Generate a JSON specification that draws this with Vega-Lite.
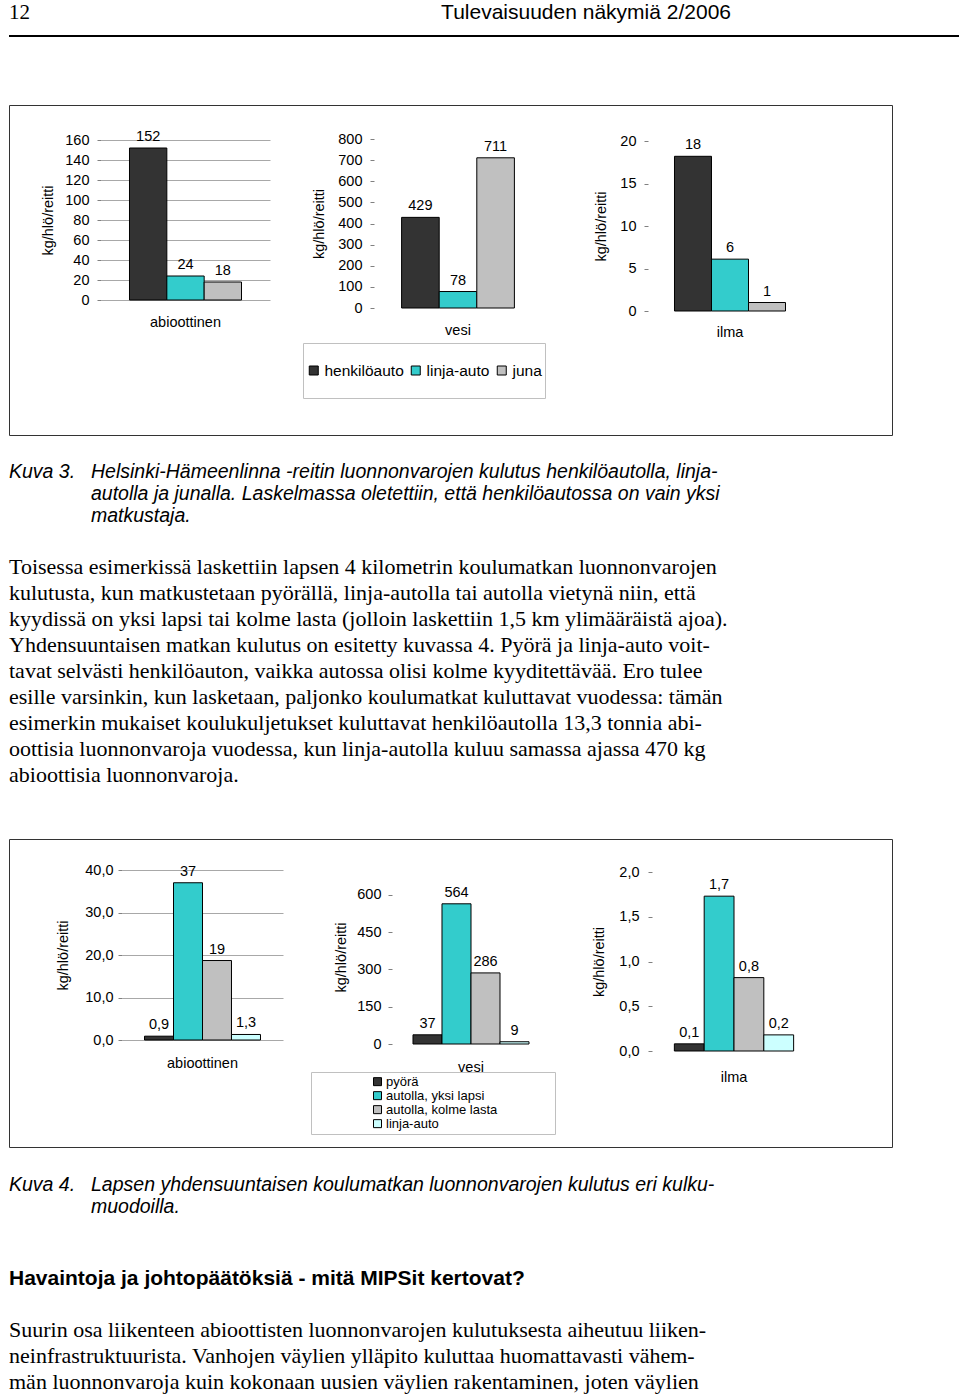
{
  "$schema": "https://vega.github.io/schema/vega-lite/v6.json",
  "background": "#ffffff",
  "padding": {"left": 8, "top": 0, "right": 2, "bottom": 1},
  "spacing": 0,
  "bounds": "flush",
  "config": {
    "view": {"stroke": null},
    "font": "Liberation Sans",
    "axis": {"labelFont": "Liberation Sans", "titleFont": "Liberation Sans", "labelColor": "#000", "titleColor": "#000", "titleFontWeight": "normal", "labelFontSize": 14.5, "titleFontSize": 14.5, "tickColor": "#808080", "gridColor": "#a8a8a8", "domain": false},
    "legend": {"labelFont": "Liberation Sans", "labelColor": "#000"}
  },
  "resolve": {"scale": {"color": "independent"}, "legend": {"color": "independent"}},
  "vconcat": [
    {
      "width": 722, "height": 25,
      "layer": [
        {"data": {"values": [{"t": "12"}]}, "mark": {"type": "text", "align": "left", "baseline": "middle", "font": "Liberation Serif", "fontSize": 21, "color": "#000"}, "encoding": {"x": {"datum": 0, "type": "quantitative", "scale": {"domain": [0, 1]}, "axis": null}, "text": {"field": "t"}}},
        {"data": {"values": [{"t": "Tulevaisuuden näkymiä 2/2006"}]}, "mark": {"type": "text", "align": "right", "baseline": "middle", "font": "Liberation Sans", "fontSize": 21, "color": "#000"}, "encoding": {"x": {"datum": 1, "type": "quantitative", "scale": {"domain": [0, 1]}, "axis": null}, "text": {"field": "t"}}}
      ]
    },
    {"width": 20, "height": 10, "data": {"values": [{}]}, "mark": {"type": "point", "opacity": 0, "size": 1}},
    {"width": 950, "height": 2, "view": {"fill": "#000", "stroke": null}, "data": {"values": [{}]}, "mark": {"type": "point", "opacity": 0, "size": 1}},
    {"width": 20, "height": 68, "data": {"values": [{}]}, "mark": {"type": "point", "opacity": 0, "size": 1}},
    {
      "width": 883, "height": 330,
      "view": {"stroke": "#333333", "strokeWidth": 1},
      "resolve": {"scale": {"x": "independent", "y": "independent", "xOffset": "independent"}, "axis": {"x": "independent", "y": "independent"}},
      "layer": [
        {
          "data": {"values": [
            {"cat": "abioottinen", "mode": "henkilöauto", "value": 152, "label": "152"},
            {"cat": "abioottinen", "mode": "linja-auto", "value": 24, "label": "24"},
            {"cat": "abioottinen", "mode": "juna", "value": 18, "label": "18"}
          ]},
          "encoding": {
            "x": {"field": "cat", "type": "nominal", "scale": {"range": [92, 261], "paddingInner": 0, "paddingOuter": 0}, "axis": {"orient": "bottom", "offset": -135, "ticks": false, "labelPadding": 15, "labelAngle": 0, "title": null}},
            "y": {"field": "value", "type": "quantitative", "scale": {"domain": [0, 160], "range": [195, 35], "nice": false}, "axis": {"orient": "left", "offset": -92, "values": [0, 20, 40, 60, 80, 100, 120, 140, 160], "tickSize": 4, "labelPadding": 8, "title": "kg/hlö/reitti", "titleX": -53, "titleBaseline": "middle", "titleAlign": "center", "titleAngle": 270}}
          },
          "layer": [
            {"data": {"values": [{"cat": "abioottinen"}]}, "mark": {"type": "rect", "fill": "transparent", "stroke": "#808080", "strokeWidth": 1}, "encoding": {"y": {"datum": 160}, "y2": {"datum": 0}}},
            {"mark": {"type": "bar", "stroke": "#000", "strokeWidth": 1, "opacity": 1},
             "encoding": {
               "xOffset": {"field": "mode", "type": "nominal", "sort": ["henkilöauto", "linja-auto", "juna"], "scale": {"paddingInner": 0, "paddingOuter": 0.763}},
               "color": {"field": "mode", "type": "nominal", "sort": ["henkilöauto", "linja-auto", "juna"], "scale": {"domain": ["henkilöauto", "linja-auto", "juna"], "range": ["#333333", "#33cccc", "#c0c0c0"]},
                 "legend": {"orient": "none", "legendX": 294, "legendY": 238, "direction": "horizontal", "title": null, "padding": 3, "clipHeight": 49, "strokeColor": "#c0c0c0", "symbolType": "square", "symbolSize": 81, "symbolStrokeColor": "#000", "symbolStrokeWidth": 1, "symbolOpacity": 1, "labelFontSize": 15.5, "labelOffset": 3, "columnPadding": 4}}
             }},
            {"mark": {"type": "text", "baseline": "bottom", "dy": -4, "fontSize": 14.5, "font": "Liberation Sans", "color": "#000"},
             "encoding": {"xOffset": {"field": "mode", "type": "nominal", "sort": ["henkilöauto", "linja-auto", "juna"], "scale": {"paddingInner": 0, "paddingOuter": 0.763}}, "text": {"field": "label"}}}
          ]
        },
        {
          "data": {"values": [
            {"cat": "vesi", "mode": "henkilöauto", "value": 429, "label": "429"},
            {"cat": "vesi", "mode": "linja-auto", "value": 78, "label": "78"},
            {"cat": "vesi", "mode": "juna", "value": 711, "label": "711"}
          ]},
          "encoding": {
            "x": {"field": "cat", "type": "nominal", "scale": {"range": [365, 533], "paddingInner": 0, "paddingOuter": 0}, "axis": {"orient": "bottom", "offset": -127, "ticks": false, "labelPadding": 15, "labelAngle": 0, "title": null}},
            "y": {"field": "value", "type": "quantitative", "scale": {"domain": [0, 800], "range": [203, 34], "nice": false}, "axis": {"orient": "left", "offset": -365, "values": [0, 100, 200, 300, 400, 500, 600, 700, 800], "tickSize": 4, "labelPadding": 8, "title": "kg/hlö/reitti", "titleX": -55, "titleBaseline": "middle", "titleAlign": "center", "titleAngle": 270}}
          },
          "layer": [
            {"data": {"values": [{"cat": "vesi"}]}, "mark": {"type": "rect", "fill": "transparent", "stroke": "#808080", "strokeWidth": 1}, "encoding": {"y": {"datum": 800}, "y2": {"datum": 0}}},
            {"mark": {"type": "bar", "stroke": "#000", "strokeWidth": 1, "opacity": 1},
             "encoding": {
               "xOffset": {"field": "mode", "type": "nominal", "sort": ["henkilöauto", "linja-auto", "juna"], "scale": {"paddingInner": 0, "paddingOuter": 0.734}},
               "color": {"field": "mode", "type": "nominal", "sort": ["henkilöauto", "linja-auto", "juna"], "scale": {"domain": ["henkilöauto", "linja-auto", "juna"], "range": ["#333333", "#33cccc", "#c0c0c0"]},
                 "legend": {"orient": "none", "legendX": 294, "legendY": 238, "direction": "horizontal", "title": null, "padding": 3, "clipHeight": 49, "strokeColor": "#c0c0c0", "symbolType": "square", "symbolSize": 81, "symbolStrokeColor": "#000", "symbolStrokeWidth": 1, "symbolOpacity": 1, "labelFontSize": 15.5, "labelOffset": 3, "columnPadding": 4}}
             }},
            {"mark": {"type": "text", "baseline": "bottom", "dy": -4, "fontSize": 14.5, "font": "Liberation Sans", "color": "#000"},
             "encoding": {"xOffset": {"field": "mode", "type": "nominal", "sort": ["henkilöauto", "linja-auto", "juna"], "scale": {"paddingInner": 0, "paddingOuter": 0.734}}, "text": {"field": "label"}}}
          ]
        },
        {
          "data": {"values": [
            {"cat": "ilma", "mode": "henkilöauto", "value": 18.2, "label": "18"},
            {"cat": "ilma", "mode": "linja-auto", "value": 6.1, "label": "6"},
            {"cat": "ilma", "mode": "juna", "value": 1, "label": "1"}
          ]},
          "encoding": {
            "x": {"field": "cat", "type": "nominal", "scale": {"range": [639, 803], "paddingInner": 0, "paddingOuter": 0}, "axis": {"orient": "bottom", "offset": -124, "ticks": false, "labelPadding": 14, "labelAngle": 0, "title": null}},
            "y": {"field": "value", "type": "quantitative", "scale": {"domain": [0, 20], "range": [206, 36], "nice": false}, "axis": {"orient": "left", "offset": -639, "values": [0, 5, 10, 15, 20], "tickSize": 4, "labelPadding": 8, "title": "kg/hlö/reitti", "titleX": -47, "titleBaseline": "middle", "titleAlign": "center", "titleAngle": 270}}
          },
          "layer": [
            {"data": {"values": [{"cat": "ilma"}]}, "mark": {"type": "rect", "fill": "transparent", "stroke": "#808080", "strokeWidth": 1}, "encoding": {"y": {"datum": 20}, "y2": {"datum": 0}}},
            {"mark": {"type": "bar", "stroke": "#000", "strokeWidth": 1, "opacity": 1},
             "encoding": {
               "xOffset": {"field": "mode", "type": "nominal", "sort": ["henkilöauto", "linja-auto", "juna"], "scale": {"paddingInner": 0, "paddingOuter": 0.716}},
               "color": {"field": "mode", "type": "nominal", "sort": ["henkilöauto", "linja-auto", "juna"], "scale": {"domain": ["henkilöauto", "linja-auto", "juna"], "range": ["#333333", "#33cccc", "#c0c0c0"]},
                 "legend": {"orient": "none", "legendX": 294, "legendY": 238, "direction": "horizontal", "title": null, "padding": 3, "clipHeight": 49, "strokeColor": "#c0c0c0", "symbolType": "square", "symbolSize": 81, "symbolStrokeColor": "#000", "symbolStrokeWidth": 1, "symbolOpacity": 1, "labelFontSize": 15.5, "labelOffset": 3, "columnPadding": 4}}
             }},
            {"mark": {"type": "text", "baseline": "bottom", "dy": -4, "fontSize": 14.5, "font": "Liberation Sans", "color": "#000"},
             "encoding": {"xOffset": {"field": "mode", "type": "nominal", "sort": ["henkilöauto", "linja-auto", "juna"], "scale": {"paddingInner": 0, "paddingOuter": 0.716}}, "text": {"field": "label"}}}
          ]
        }
      ]
    },
    {"width": 20, "height": 26, "data": {"values": [{}]}, "mark": {"type": "point", "opacity": 0, "size": 1}},
    {
      "width": 720, "height": 66,
      "data": {"values": [
        {"line": 1, "part": "label", "text": "Kuva 3."},
        {"line": 1, "part": "body", "text": "Helsinki-Hämeenlinna -reitin luonnonvarojen kulutus henkilöautolla, linja-"},
        {"line": 2, "part": "body", "text": "autolla ja junalla. Laskelmassa oletettiin, että henkilöautossa on vain yksi"},
        {"line": 3, "part": "body", "text": "matkustaja."}
      ]},
      "mark": {"type": "text", "align": "left", "baseline": "middle", "font": "Liberation Sans", "fontStyle": "italic", "fontSize": 19.5, "color": "#000"},
      "encoding": {
        "x": {"field": "part", "type": "nominal", "scale": {"type": "point", "domain": ["label", "body"], "range": [0, 82], "padding": 0}, "axis": null},
        "y": {"field": "line", "type": "ordinal", "scale": {"type": "point", "padding": 0.5}, "axis": null},
        "text": {"field": "text"}
      }
    },
    {"width": 20, "height": 27, "data": {"values": [{}]}, "mark": {"type": "point", "opacity": 0, "size": 1}},
    {
      "width": 720, "height": 234,
      "data": {"values": [
        {"line": 1, "text": "Toisessa esimerkissä laskettiin lapsen 4 kilometrin koulumatkan luonnonvarojen"},
        {"line": 2, "text": "kulutusta, kun matkustetaan pyörällä, linja-autolla tai autolla vietynä niin, että"},
        {"line": 3, "text": "kyydissä on yksi lapsi tai kolme lasta (jolloin laskettiin 1,5 km ylimääräistä ajoa)."},
        {"line": 4, "text": "Yhdensuuntaisen matkan kulutus on esitetty kuvassa 4. Pyörä ja linja-auto voit-"},
        {"line": 5, "text": "tavat selvästi henkilöauton, vaikka autossa olisi kolme kyyditettävää. Ero tulee"},
        {"line": 6, "text": "esille varsinkin, kun lasketaan, paljonko koulumatkat kuluttavat vuodessa: tämän"},
        {"line": 7, "text": "esimerkin mukaiset koulukuljetukset kuluttavat henkilöautolla 13,3 tonnia abi-"},
        {"line": 8, "text": "oottisia luonnonvaroja vuodessa, kun linja-autolla kuluu samassa ajassa 470 kg"},
        {"line": 9, "text": "abioottisia luonnonvaroja."}
      ]},
      "mark": {"type": "text", "align": "left", "baseline": "middle", "font": "Liberation Serif", "fontSize": 22, "color": "#000"},
      "encoding": {
        "x": {"datum": 0, "type": "quantitative", "scale": {"domain": [0, 1]}, "axis": null},
        "y": {"field": "line", "type": "ordinal", "scale": {"type": "point", "padding": 0.5}, "axis": null},
        "text": {"field": "text"}
      }
    },
    {"width": 20, "height": 51, "data": {"values": [{}]}, "mark": {"type": "point", "opacity": 0, "size": 1}},
    {
      "width": 883, "height": 308,
      "view": {"stroke": "#333333", "strokeWidth": 1},
      "resolve": {"scale": {"x": "independent", "y": "independent", "xOffset": "independent"}, "axis": {"x": "independent", "y": "independent"}},
      "layer": [
        {
          "data": {"values": [
            {"cat": "abioottinen", "mode": "pyörä", "value": 0.9, "label": "0,9"},
            {"cat": "abioottinen", "mode": "autolla, yksi lapsi", "value": 37, "label": "37"},
            {"cat": "abioottinen", "mode": "autolla, kolme lasta", "value": 18.7, "label": "19"},
            {"cat": "abioottinen", "mode": "linja-auto", "value": 1.3, "label": "1,3"}
          ]},
          "encoding": {
            "x": {"field": "cat", "type": "nominal", "scale": {"range": [113, 274], "paddingInner": 0, "paddingOuter": 0}, "axis": {"orient": "bottom", "offset": -107, "ticks": false, "labelPadding": 16, "labelAngle": 0, "title": null}},
            "y": {"field": "value", "type": "quantitative", "scale": {"domain": [0, 40], "range": [201, 31], "nice": false}, "axis": {"orient": "left", "offset": -113, "values": [0, 10, 20, 30, 40], "labelExpr": "replace(format(datum.value, '.1f'), '.', ',')", "tickSize": 4, "labelPadding": 5, "title": "kg/hlö/reitti", "titleX": -59, "titleBaseline": "middle", "titleAlign": "center", "titleAngle": 270}}
          },
          "layer": [
            {"data": {"values": [{"cat": "abioottinen"}]}, "mark": {"type": "rect", "fill": "transparent", "stroke": "#808080", "strokeWidth": 1}, "encoding": {"y": {"datum": 40}, "y2": {"datum": 0}}},
            {"mark": {"type": "bar", "stroke": "#000", "strokeWidth": 1, "opacity": 1},
             "encoding": {
               "xOffset": {"field": "mode", "type": "nominal", "sort": ["pyörä", "autolla, yksi lapsi", "autolla, kolme lasta", "linja-auto"], "scale": {"paddingInner": 0, "paddingOuter": 0.776}},
               "color": {"field": "mode", "type": "nominal", "sort": ["pyörä", "autolla, yksi lapsi", "autolla, kolme lasta", "linja-auto"], "scale": {"domain": ["pyörä", "autolla, yksi lapsi", "autolla, kolme lasta", "linja-auto"], "range": ["#333333", "#33cccc", "#c0c0c0", "#ccffff"]},
                 "legend": {"orient": "none", "legendX": 302, "legendY": 233, "direction": "vertical", "title": " ", "titleOrient": "right", "titlePadding": 55, "titleFontSize": 12, "padding": 3, "clipHeight": 13.3, "rowPadding": 0, "symbolOffset": 57, "labelOffset": 2, "strokeColor": "#c0c0c0", "symbolType": "square", "symbolSize": 64, "symbolStrokeColor": "#000", "symbolStrokeWidth": 1, "symbolOpacity": 1, "labelFontSize": 13}}
             }},
            {"mark": {"type": "text", "baseline": "bottom", "dy": -4, "fontSize": 14.5, "font": "Liberation Sans", "color": "#000"},
             "encoding": {"xOffset": {"field": "mode", "type": "nominal", "sort": ["pyörä", "autolla, yksi lapsi", "autolla, kolme lasta", "linja-auto"], "scale": {"paddingInner": 0, "paddingOuter": 0.776}}, "text": {"field": "label"}}}
          ]
        },
        {
          "data": {"values": [
            {"cat": "vesi", "mode": "pyörä", "value": 37, "label": "37"},
            {"cat": "vesi", "mode": "autolla, yksi lapsi", "value": 564, "label": "564"},
            {"cat": "vesi", "mode": "autolla, kolme lasta", "value": 286, "label": "286"},
            {"cat": "vesi", "mode": "linja-auto", "value": 9, "label": "9"}
          ]},
          "encoding": {
            "x": {"field": "cat", "type": "nominal", "scale": {"range": [383, 541], "paddingInner": 0, "paddingOuter": 0}, "axis": {"orient": "bottom", "offset": -103, "ticks": false, "labelPadding": 16, "labelAngle": 0, "title": null}},
            "y": {"field": "value", "type": "quantitative", "scale": {"domain": [0, 700], "range": [205, 31], "nice": false}, "axis": {"orient": "left", "offset": -383, "values": [0, 150, 300, 450, 600], "tickSize": 4, "labelPadding": 7, "title": "kg/hlö/reitti", "titleX": -51, "titleBaseline": "middle", "titleAlign": "center", "titleAngle": 270}}
          },
          "layer": [
            {"data": {"values": [{"cat": "vesi"}]}, "mark": {"type": "rect", "fill": "transparent", "stroke": "#808080", "strokeWidth": 1}, "encoding": {"y": {"datum": 700}, "y2": {"datum": 0}}},
            {"mark": {"type": "bar", "stroke": "#000", "strokeWidth": 1, "opacity": 1},
             "encoding": {
               "xOffset": {"field": "mode", "type": "nominal", "sort": ["pyörä", "autolla, yksi lapsi", "autolla, kolme lasta", "linja-auto"], "scale": {"paddingInner": 0, "paddingOuter": 0.724}},
               "color": {"field": "mode", "type": "nominal", "sort": ["pyörä", "autolla, yksi lapsi", "autolla, kolme lasta", "linja-auto"], "scale": {"domain": ["pyörä", "autolla, yksi lapsi", "autolla, kolme lasta", "linja-auto"], "range": ["#333333", "#33cccc", "#c0c0c0", "#ccffff"]},
                 "legend": {"orient": "none", "legendX": 302, "legendY": 233, "direction": "vertical", "title": " ", "titleOrient": "right", "titlePadding": 55, "titleFontSize": 12, "padding": 3, "clipHeight": 13.3, "rowPadding": 0, "symbolOffset": 57, "labelOffset": 2, "strokeColor": "#c0c0c0", "symbolType": "square", "symbolSize": 64, "symbolStrokeColor": "#000", "symbolStrokeWidth": 1, "symbolOpacity": 1, "labelFontSize": 13}}
             }},
            {"mark": {"type": "text", "baseline": "bottom", "dy": -4, "fontSize": 14.5, "font": "Liberation Sans", "color": "#000"},
             "encoding": {"xOffset": {"field": "mode", "type": "nominal", "sort": ["pyörä", "autolla, yksi lapsi", "autolla, kolme lasta", "linja-auto"], "scale": {"paddingInner": 0, "paddingOuter": 0.724}}, "text": {"field": "label"}}}
          ]
        },
        {
          "data": {"values": [
            {"cat": "ilma", "mode": "pyörä", "value": 0.08, "label": "0,1"},
            {"cat": "ilma", "mode": "autolla, yksi lapsi", "value": 1.73, "label": "1,7"},
            {"cat": "ilma", "mode": "autolla, kolme lasta", "value": 0.82, "label": "0,8"},
            {"cat": "ilma", "mode": "linja-auto", "value": 0.18, "label": "0,2"}
          ]},
          "encoding": {
            "x": {"field": "cat", "type": "nominal", "scale": {"range": [643, 807], "paddingInner": 0, "paddingOuter": 0}, "axis": {"orient": "bottom", "offset": -96, "ticks": false, "labelPadding": 19, "labelAngle": 0, "title": null}},
            "y": {"field": "value", "type": "quantitative", "scale": {"domain": [0, 2], "range": [212, 33], "nice": false}, "axis": {"orient": "left", "offset": -643, "values": [0, 0.5, 1, 1.5, 2], "labelExpr": "replace(format(datum.value, '.1f'), '.', ',')", "tickSize": 4, "labelPadding": 9, "title": "kg/hlö/reitti", "titleX": -53, "titleBaseline": "middle", "titleAlign": "center", "titleAngle": 270}}
          },
          "layer": [
            {"data": {"values": [{"cat": "ilma"}]}, "mark": {"type": "rect", "fill": "transparent", "stroke": "#808080", "strokeWidth": 1}, "encoding": {"y": {"datum": 2}, "y2": {"datum": 0}}},
            {"mark": {"type": "bar", "stroke": "#000", "strokeWidth": 1, "opacity": 1},
             "encoding": {
               "xOffset": {"field": "mode", "type": "nominal", "sort": ["pyörä", "autolla, yksi lapsi", "autolla, kolme lasta", "linja-auto"], "scale": {"paddingInner": 0, "paddingOuter": 0.75}},
               "color": {"field": "mode", "type": "nominal", "sort": ["pyörä", "autolla, yksi lapsi", "autolla, kolme lasta", "linja-auto"], "scale": {"domain": ["pyörä", "autolla, yksi lapsi", "autolla, kolme lasta", "linja-auto"], "range": ["#333333", "#33cccc", "#c0c0c0", "#ccffff"]},
                 "legend": {"orient": "none", "legendX": 302, "legendY": 233, "direction": "vertical", "title": " ", "titleOrient": "right", "titlePadding": 55, "titleFontSize": 12, "padding": 3, "clipHeight": 13.3, "rowPadding": 0, "symbolOffset": 57, "labelOffset": 2, "strokeColor": "#c0c0c0", "symbolType": "square", "symbolSize": 64, "symbolStrokeColor": "#000", "symbolStrokeWidth": 1, "symbolOpacity": 1, "labelFontSize": 13}}
             }},
            {"mark": {"type": "text", "baseline": "bottom", "dy": -4, "fontSize": 14.5, "font": "Liberation Sans", "color": "#000"},
             "encoding": {"xOffset": {"field": "mode", "type": "nominal", "sort": ["pyörä", "autolla, yksi lapsi", "autolla, kolme lasta", "linja-auto"], "scale": {"paddingInner": 0, "paddingOuter": 0.75}}, "text": {"field": "label"}}}
          ]
        }
      ]
    },
    {"width": 20, "height": 27, "data": {"values": [{}]}, "mark": {"type": "point", "opacity": 0, "size": 1}},
    {
      "width": 720, "height": 44,
      "data": {"values": [
        {"line": 1, "part": "label", "text": "Kuva 4."},
        {"line": 1, "part": "body", "text": "Lapsen yhdensuuntaisen koulumatkan luonnonvarojen kulutus eri kulku-"},
        {"line": 2, "part": "body", "text": "muodoilla."}
      ]},
      "mark": {"type": "text", "align": "left", "baseline": "middle", "font": "Liberation Sans", "fontStyle": "italic", "fontSize": 19.5, "color": "#000"},
      "encoding": {
        "x": {"field": "part", "type": "nominal", "scale": {"type": "point", "domain": ["label", "body"], "range": [0, 82], "padding": 0}, "axis": null},
        "y": {"field": "line", "type": "ordinal", "scale": {"type": "point", "padding": 0.5}, "axis": null},
        "text": {"field": "text"}
      }
    },
    {"width": 20, "height": 48, "data": {"values": [{}]}, "mark": {"type": "point", "opacity": 0, "size": 1}},
    {
      "width": 720, "height": 26,
      "data": {"values": [{"line": 1, "text": "Havaintoja ja johtopäätöksiä - mitä MIPSit kertovat?"}]},
      "mark": {"type": "text", "align": "left", "baseline": "middle", "font": "Liberation Sans", "fontWeight": "bold", "fontSize": 21, "color": "#000"},
      "encoding": {
        "x": {"datum": 0, "type": "quantitative", "scale": {"domain": [0, 1]}, "axis": null},
        "y": {"field": "line", "type": "ordinal", "scale": {"type": "point", "padding": 0.5}, "axis": null},
        "text": {"field": "text"}
      }
    },
    {"width": 20, "height": 25, "data": {"values": [{}]}, "mark": {"type": "point", "opacity": 0, "size": 1}},
    {
      "width": 720, "height": 78,
      "data": {"values": [
        {"line": 1, "text": "Suurin osa liikenteen abioottisten luonnonvarojen kulutuksesta aiheutuu liiken-"},
        {"line": 2, "text": "neinfrastruktuurista. Vanhojen väylien ylläpito kuluttaa huomattavasti vähem-"},
        {"line": 3, "text": "män luonnonvaroja kuin kokonaan uusien väylien rakentaminen, joten väylien"}
      ]},
      "mark": {"type": "text", "align": "left", "baseline": "middle", "font": "Liberation Serif", "fontSize": 22, "color": "#000"},
      "encoding": {
        "x": {"datum": 0, "type": "quantitative", "scale": {"domain": [0, 1]}, "axis": null},
        "y": {"field": "line", "type": "ordinal", "scale": {"type": "point", "padding": 0.5}, "axis": null},
        "text": {"field": "text"}
      }
    }
  ]
}
